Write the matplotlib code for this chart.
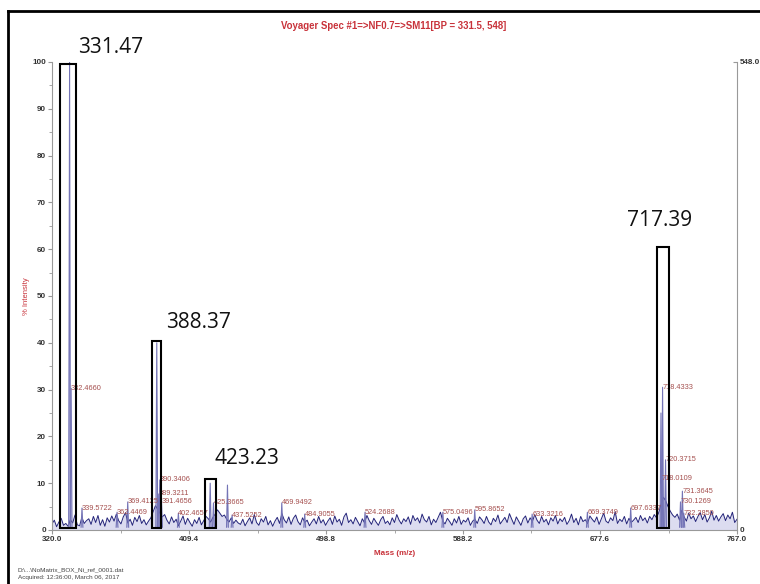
import numpy as np
import matplotlib.pyplot as plt
from matplotlib.lines import Line2D
from matplotlib.patches import Rectangle
from matplotlib.ticker import AutoMinorLocator

plt.rcParams['font.family'] = ['Liberation Sans', 'DejaVu Sans']

# baseline noise (% intensity), evenly spaced from 320 to 767 m/z
noise = [
    1.3, 2.1, 0.7, 1.7, 2.5, 1.0, 1.4, 0.8, 2.2, 1.5, 3.2, 1.1, 0.9, 2.7, 1.4, 2.0,
    2.4, 1.2, 2.9, 1.6, 3.1, 1.0, 2.2, 0.8, 2.6, 1.7, 3.0, 1.9, 3.4, 2.0, 1.3, 2.8,
    3.7, 1.5, 2.3, 1.0, 2.7, 1.8, 3.1, 1.4, 2.2, 1.1, 1.9,
    2.6, 3.9, 5.2, 4.4, 3.6, 2.8, 3.3,
    2.1, 1.3, 2.8, 1.6, 2.3, 0.9, 1.9, 3.0, 1.2, 2.5, 1.6, 0.8, 2.2, 1.4, 2.7, 1.1,
    2.0, 2.9, 2.4, 1.7, 2.7, 3.4, 4.3, 3.6, 2.9, 3.2, 2.3, 1.7, 2.6, 1.4, 2.1, 1.5,
    1.2, 2.3, 0.9, 1.8, 2.6, 1.3, 3.3, 1.6, 1.0, 2.4, 1.7, 2.9, 1.1, 2.0, 0.8, 1.9,
    2.7, 1.4, 3.5, 2.2, 1.5, 2.8, 1.2, 2.5, 3.2, 1.8, 1.1, 2.6, 1.6, 2.1, 0.9, 1.7,
    2.4, 1.3, 2.9, 1.5, 2.2, 1.0,
    1.9, 2.6, 1.2, 3.0, 1.7, 2.3, 1.0, 2.8, 3.6, 1.6, 2.2, 1.3, 2.7, 1.8, 0.9, 2.4,
    1.5, 3.1, 2.0, 1.2, 2.5, 1.7, 1.0, 2.2, 2.9, 1.4, 1.9, 1.1, 2.6, 1.6, 3.3, 2.1,
    1.3, 2.4, 1.8, 2.8, 1.2, 3.1, 2.0, 2.6, 1.5, 3.4, 2.2, 1.7, 2.9, 1.1, 2.3, 1.6,
    2.7, 3.8, 1.9, 1.3, 2.5, 1.8, 1.0, 2.4, 1.5, 2.9, 1.2, 2.1, 1.7, 2.6, 1.0, 1.9,
    2.3, 1.4, 2.8,
    2.2, 1.4, 2.9, 1.7, 1.1, 2.5, 1.8, 3.2, 1.3, 2.0, 2.7, 1.6, 3.5, 2.3, 1.2, 2.8,
    1.9, 1.0, 2.4, 3.0, 1.5, 2.6, 1.8, 3.3, 2.1, 1.4, 2.9, 1.7, 2.3, 1.1, 2.6, 1.9,
    3.1, 1.3, 2.4, 1.8, 2.7, 1.2, 2.0, 3.4, 1.6, 2.5, 1.1, 2.9, 1.8, 2.2, 1.4, 3.0,
    2.3, 1.7, 2.8, 1.2, 2.4, 3.6, 1.9, 1.5, 2.6, 2.0, 3.9, 1.4, 2.3, 1.8, 2.9, 1.3,
    2.5, 1.6, 2.1,
    2.7, 1.6, 3.1, 2.0, 2.6, 1.5, 2.9, 2.2, 3.3, 2.6,
    3.8, 5.5, 7.0, 6.2, 5.0, 4.0, 3.2,
    2.7, 3.4, 2.1, 4.2, 2.8, 1.9, 3.6, 2.4, 3.0, 1.8, 2.9, 3.7, 2.2, 3.3, 1.7, 2.6,
    4.0, 2.1, 3.1, 1.9, 2.8, 3.5, 2.0, 3.2, 2.4, 3.8, 1.6, 2.3,
]

# peaks: m/z, height (%), labelled?
peak_mz = [331.47, 332.466, 339.5722, 362.4469, 369.4125, 388.37, 389.3211, 390.3406,
           391.4656, 402.4657, 423.23, 425.3665, 434.5, 437.5252, 469.9492, 484.9055,
           524.2688, 575.0496, 595.8652, 633.3216, 669.3749, 697.6337, 717.39, 718.0109,
           718.4333, 720.3715, 730.1269, 731.3645, 732.285]
peak_h = [100, 30.3, 4.7, 3.8, 6.0, 40.0, 7.7, 10.7,
          6.0, 3.6, 10.0, 5.8, 9.6, 3.2, 5.8, 3.4,
          3.8, 3.8, 4.3, 3.4, 3.8, 4.7, 25.0, 11.0,
          30.5, 15.0, 6.0, 8.3, 3.6]
peak_lab = [False, True, True, True, True, False, True, True,
            True, True, False, True, False, True, True, True,
            True, True, True, True, True, True, False, True,
            True, True, True, True, True]

# highlighted peaks: label, box left, box right, box top
box_text = ['331.47', '388.37', '423.23', '717.39']
box_lo = [325.3, 385.4, 420.1, 715.1]
box_hi = [335.6, 391.4, 427.2, 722.7]
box_top = [99.6, 40.3, 10.9, 60.4]

x_ticks = [320.0, 409.4, 498.8, 588.2, 677.6, 767.0]
y_ticks = [0, 10, 20, 30, 40, 50, 60, 70, 80, 90, 100]

red = '#c8323a'
lab_red = '#a5504f'
navy = '#24247a'

fig = plt.figure(figsize=(7.6, 5.84), dpi=100)
ax = fig.add_axes([52 / 760, 54 / 584, 685 / 760, 468 / 584])

mz = np.linspace(320, 767, len(noise))
ax.fill_between(mz, 0, noise, color='#dcdcf0', lw=0, zorder=1)
ax.plot(mz, noise, color=navy, lw=0.7, zorder=2)

for m, h in zip(peak_mz, peak_h):
    w = 0.6
    ax.fill([m - w, m, m + w], [0.6, h, 0.6], color='#c4c4e4', lw=0, zorder=1.5)
    ax.plot([m - w, m, m + w], [0.6, h, 0.6], color='#7474b6', lw=0.8, zorder=2)

for m, h, show in zip(peak_mz, peak_h, peak_lab):
    if show:
        ax.text(m, h, '%.4f' % m, fontsize=5.3, color=lab_red, ha='left', va='center', zorder=3)

offsets = [(10, 11), (9, 13), (4, 15), (-36, 21)]
for t, lo, hi, top, off in zip(box_text, box_lo, box_hi, box_top, offsets):
    ax.add_patch(Rectangle((lo, 0.4), hi - lo, top - 0.4, fill=False, ec='black', lw=1.5, zorder=4))
    ax.annotate(t, xy=((lo + hi) / 2, top), xytext=off, textcoords='offset pixels',
                fontsize=15, family='Open Sans', color='#111111', ha='left', va='baseline')

ax.set_xlim(320, 767)
ax.set_ylim(0, 100)
ax.set_xticks(x_ticks)
ax.set_xticklabels(['%.1f' % v for v in x_ticks])
ax.set_yticks(y_ticks)
ax.xaxis.set_minor_locator(AutoMinorLocator(2))
ax.yaxis.set_minor_locator(AutoMinorLocator(2))
ax.tick_params(which='both', color='#999999', labelsize=5.8, labelcolor='#333333', pad=1.5)
ax.tick_params(which='major', length=3)
ax.tick_params(which='minor', length=2)
for lbl in ax.get_xticklabels() + ax.get_yticklabels():
    lbl.set_fontweight('bold')
for s in ['top', 'right']:
    ax.spines[s].set_visible(False)
for s in ['left', 'bottom']:
    ax.spines[s].set_color('#999999')
    ax.spines[s].set_linewidth(0.8)

ax2 = ax.twinx()
ax2.set_ylim(0, 548)
ax2.set_yticks([0, 548])
ax2.set_yticklabels(['0', '548.0'])
ax2.tick_params(direction='in', length=3, color='#999999', labelsize=5.8, labelcolor='#333333', pad=2)
for lbl in ax2.get_yticklabels():
    lbl.set_fontweight('bold')
for s in ['top', 'left', 'bottom']:
    ax2.spines[s].set_visible(False)
ax2.spines['right'].set_color('#999999')
ax2.spines['right'].set_linewidth(0.8)

ax.set_xlabel('Mass (m/z)', fontsize=5.8, color=red, fontweight='bold', labelpad=5)
ax.set_ylabel('% Intensity', fontsize=5.5, color=red)
ax.yaxis.set_label_coords(-0.032, 0.5)

fig.text(394 / 760, 1 - 26 / 584, 'Voyager Spec #1=>NF0.7=>SM11[BP = 331.5, 548]',
         fontsize=6.9, color=red, fontweight='bold', ha='center', va='center')
fig.text(18 / 760, 1 - 570 / 584, 'D:\\...\\NoMatrix_BOX_Ni_ref_0001.dat',
         fontsize=4.6, color='#444444', ha='left', va='center')
fig.text(18 / 760, 1 - 578 / 584, 'Acquired: 12:36:00, March 06, 2017',
         fontsize=4.6, color='#444444', ha='left', va='center')

# outer frame (top and left edges)
fig.add_artist(Line2D([8 / 760, 1], [1 - 11 / 584, 1 - 11 / 584], color='black', lw=2))
fig.add_artist(Line2D([8 / 760, 8 / 760], [0, 1 - 11 / 584], color='black', lw=2))

fig.savefig('out.png', dpi=100)
